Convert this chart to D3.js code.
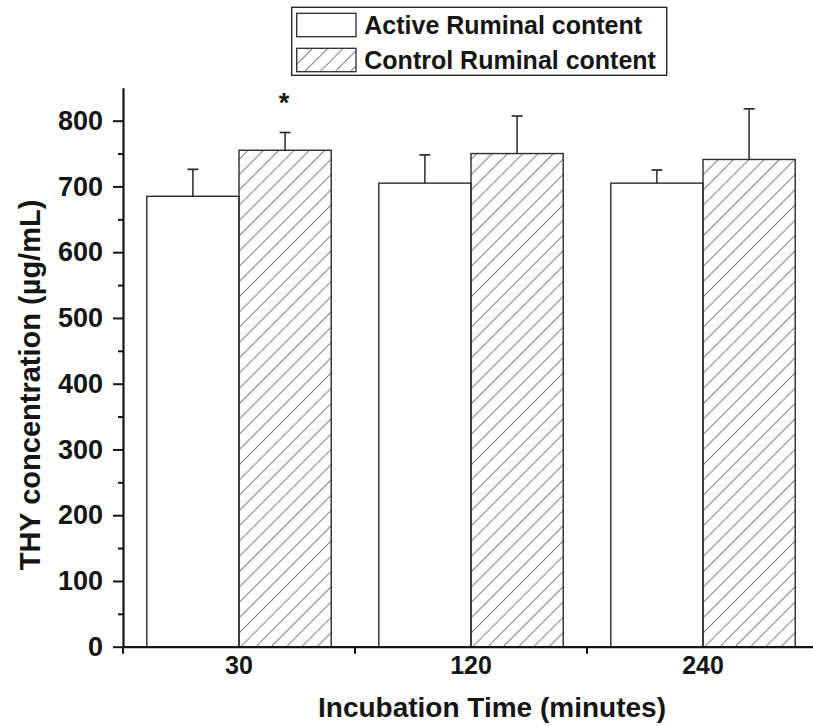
<!DOCTYPE html>
<html>
<head>
<meta charset="utf-8">
<script src="https://cdn.jsdelivr.net/npm/d3@7/dist/d3.min.js"></script>
<style>
  html, body { margin: 0; padding: 0; background: #fff; }
  svg { display: block; font-family: "Liberation Sans", Arial, sans-serif; }
</style>
</head>
<body>
<svg id="chart" width="813" height="726"></svg>
<script>
// Incubation times (minutes) and THY concentration (µg/mL)
const categories = ["30", "120", "240"];
const seriesNames = ["Active Ruminal content", "Control Ruminal content"];
const activeValues = [685, 705, 705];
const activeErrors = [41, 43, 20];
const controlValues = [755, 750, 741];
const controlErrors = [27, 57, 77];
const yTicks = [0, 100, 200, 300, 400, 500, 600, 700, 800];
const yMinorTicks = [50, 150, 250, 350, 450, 550, 650, 750];
const significant = [true, false, false]; // control differs at 30 min

const rows = categories.map((c, i) => ({
  cat: c,
  bars: [
    { key: seriesNames[0], value: activeValues[i], err: activeErrors[i] },
    { key: seriesNames[1], value: controlValues[i], err: controlErrors[i] }
  ],
  sig: significant[i]
}));

const svg = d3.select("#chart");
const ink = "#151515";

const plot = { left: 123, right: 819, top: 87.8, bottom: 646.7 };

const x = d3.scaleBand().domain(categories).range([plot.left, plot.right]).padding(0);
const x1 = d3.scaleBand().domain(seriesNames).range([0, x.bandwidth()])
  .paddingInner(0).paddingOuter(0.258);
const y = d3.scaleLinear().domain([0, 850]).range([plot.bottom, plot.top]);

// Diagonal hatch for the control series
const defs = svg.append("defs");
defs.append("pattern")
  .attr("id", "hatch")
  .attr("patternUnits", "userSpaceOnUse")
  .attr("width", 10.8).attr("height", 10.8)
  .attr("patternTransform", "rotate(45)")
  .append("line")
  .attr("x1", 0).attr("y1", 0).attr("x2", 0).attr("y2", 10.8)
  .attr("stroke", "#2a2a2a").attr("stroke-width", 1.2);

const fillFor = key => key === seriesNames[1] ? "url(#hatch)" : "#fff";

// Bars
const groups = svg.append("g").selectAll("g")
  .data(rows).join("g")
  .attr("transform", d => `translate(${x(d.cat)},0)`);

groups.selectAll("rect")
  .data(d => d.bars).join("rect")
  .attr("x", b => x1(b.key))
  .attr("y", b => y(b.value))
  .attr("width", x1.bandwidth())
  .attr("height", b => y(0) - y(b.value))
  .attr("fill", b => fillFor(b.key))
  .attr("stroke", "#2a2a2a")
  .attr("stroke-width", 1.4);

// Upper error bars
const errs = groups.selectAll("g.err")
  .data(d => d.bars).join("g").attr("class", "err");
errs.append("line")
  .attr("x1", b => x1(b.key) + x1.bandwidth() / 2)
  .attr("x2", b => x1(b.key) + x1.bandwidth() / 2)
  .attr("y1", b => y(b.value))
  .attr("y2", b => y(b.value + b.err))
  .attr("stroke", "#2a2a2a").attr("stroke-width", 1.5);
errs.append("line")
  .attr("x1", b => x1(b.key) + x1.bandwidth() / 2 - 5.5)
  .attr("x2", b => x1(b.key) + x1.bandwidth() / 2 + 5.5)
  .attr("y1", b => y(b.value + b.err))
  .attr("y2", b => y(b.value + b.err))
  .attr("stroke", "#2a2a2a").attr("stroke-width", 1.7);

// Significance marker
groups.filter(d => d.sig).append("text")
  .attr("x", x1(seriesNames[1]) + x1.bandwidth() / 2 - 1)
  .attr("y", 112)
  .attr("text-anchor", "middle")
  .attr("font-size", 27).attr("font-weight", "bold")
  .attr("fill", ink)
  .text("*");

// Y axis
const yAxis = svg.append("g")
  .attr("transform", `translate(${plot.left},0)`)
  .call(d3.axisLeft(y).tickValues(yTicks).tickSize(10).tickSizeOuter(0).tickPadding(10));
yAxis.select(".domain").attr("stroke", ink).attr("stroke-width", 2.2);
yAxis.selectAll(".tick line").attr("stroke", ink).attr("stroke-width", 2);
yAxis.selectAll(".tick text")
  .attr("font-size", 27).attr("font-weight", "bold")
  .attr("font-family", "'Liberation Sans', Arial, sans-serif")
  .attr("fill", ink);

const yMinor = svg.append("g")
  .attr("transform", `translate(${plot.left},0)`)
  .call(d3.axisLeft(y).tickValues(yMinorTicks).tickSize(5).tickFormat(""));
yMinor.select(".domain").remove();
yMinor.selectAll(".tick line").attr("stroke", ink).attr("stroke-width", 2);

// X axis: labels at band centers, ticks at band boundaries
const xAxis = svg.append("g")
  .attr("transform", `translate(0,${plot.bottom})`)
  .call(d3.axisBottom(x).tickSize(0).tickSizeOuter(0).tickPadding(10));
xAxis.select(".domain").attr("stroke", ink).attr("stroke-width", 2.2);
xAxis.selectAll(".tick text")
  .attr("font-size", 25).attr("font-weight", "bold")
  .attr("font-family", "'Liberation Sans', Arial, sans-serif")
  .attr("fill", ink);

const boundaries = [x(categories[0])].concat(categories.map(c => x(c) + x.bandwidth()));
xAxis.selectAll("line.bound")
  .data(boundaries).join("line").attr("class", "bound")
  .attr("x1", d => d).attr("x2", d => d)
  .attr("y1", 0).attr("y2", 7)
  .attr("stroke", ink).attr("stroke-width", 2);

// Axis titles
svg.append("text")
  .attr("x", 492).attr("y", 717)
  .attr("text-anchor", "middle")
  .attr("font-size", 28).attr("font-weight", "bold")
  .attr("fill", ink)
  .text("Incubation Time (minutes)");

svg.append("text")
  .attr("transform", "translate(40,385) rotate(-90)")
  .attr("text-anchor", "middle")
  .attr("font-size", 29).attr("font-weight", "bold")
  .attr("fill", ink)
  .text("THY concentration (µg/mL)");

// Legend
const legend = svg.append("g");
legend.append("rect")
  .attr("x", 291.7).attr("y", 7.3).attr("width", 375).attr("height", 68)
  .attr("fill", "#fff").attr("stroke", "#2a2a2a").attr("stroke-width", 1.4);
const items = legend.selectAll("g.item")
  .data(seriesNames).join("g").attr("class", "item")
  .attr("transform", (d, i) => `translate(296.7,${13.3 + i * 35})`);
items.append("rect")
  .attr("width", 59.3).attr("height", 23.4)
  .attr("fill", d => fillFor(d))
  .attr("stroke", "#2a2a2a").attr("stroke-width", 1.3);
items.append("text")
  .attr("x", 67.6).attr("y", 21)
  .attr("font-size", 25).attr("font-weight", "bold")
  .attr("fill", ink)
  .text(d => d);
</script>
</body>
</html>
